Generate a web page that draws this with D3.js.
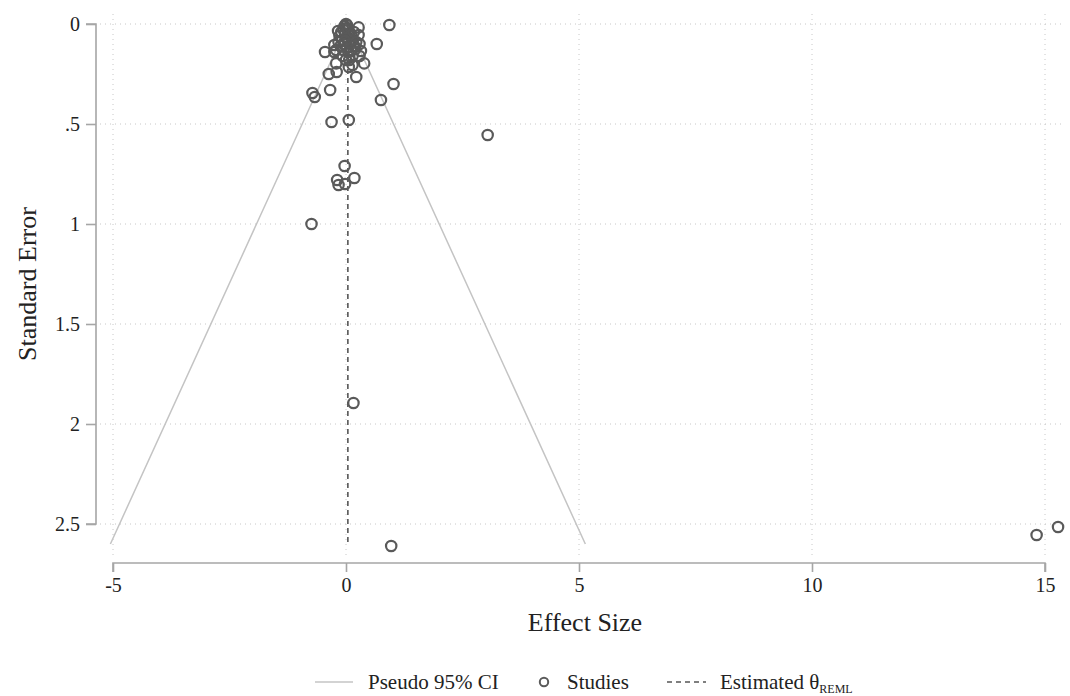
<!DOCTYPE html>
<html>
<head>
<meta charset="utf-8">
<script src="https://cdn.jsdelivr.net/npm/d3@7"></script>
<style>
  html, body { margin: 0; padding: 0; background: #fff; }
  svg { display: block; font-family: "Liberation Serif", "Times New Roman", serif; }
</style>
</head>
<body>
<svg id="chart" width="1070" height="696"></svg>
<script>
// Study effect sizes and their standard errors
const effectSize = [
  0.93, 3.04, 14.82, 15.28, 0.97, 0.16, -0.74,
  -0.03, 0.18, -0.19, -0.16, -0.02,
  -0.31, 0.06,
  -0.72, -0.67, -0.34, 0.75, 1.02,
  0.22, -0.37, -0.20, 0.06, -0.21, 0.14, 0.39, 0.00,
  0.66, -0.45, -0.25, 0.29, 0.32, 0.29, 0.27, 0.27,
  -0.07, 0.07, 0.14, 0.11, -0.25, -0.21,
  0.00, 0.02, -0.03, 0.01, -0.05, 0.04, -0.10, 0.08, -0.02, 0.12,
  -0.14, 0.02, -0.08, 0.15, 0.05, -0.16, -0.04, 0.10, 0.18, -0.12,
  0.02, -0.06, 0.20, 0.05, -0.17, 0.17, -0.02, 0.22
];
const standardError = [
  0.005, 0.555, 2.555, 2.515, 2.61, 1.895, 1.00,
  0.71, 0.77, 0.78, 0.805, 0.80,
  0.49, 0.48,
  0.345, 0.365, 0.33, 0.38, 0.30,
  0.265, 0.25, 0.24, 0.215, 0.197, 0.205, 0.197, 0.18,
  0.10, 0.14, 0.14, 0.16, 0.135, 0.10, 0.055, 0.017,
  0.16, 0.18, 0.16, 0.13, 0.105, 0.13,
  0.000, 0.005, 0.010, 0.020, 0.030, 0.030, 0.040, 0.045, 0.050, 0.060,
  0.060, 0.070, 0.080, 0.080, 0.090, 0.090, 0.100, 0.100, 0.110, 0.110,
  0.120, 0.130, 0.125, 0.140, 0.035, 0.040, 0.085, 0.090
];

// Pooled REML estimate and the extent of the pseudo confidence funnel
const thetaREML = 0.04;
const funnelMaxSE = 2.6;
const zCrit = 1.96;

const xTicks = [-5, 0, 5, 10, 15];
const xTickLabels = ["-5", "0", "5", "10", "15"];
const yTicks = [0, 0.5, 1, 1.5, 2, 2.5];
const yTickLabels = ["0", ".5", "1", "1.5", "2", "2.5"];

const svg = d3.select("#chart");

const x = d3.scaleLinear().domain([-5, 15]).range([113, 1045]);
const y = d3.scaleLinear().domain([0, 2.5]).range([24, 524]);

const axisColor = "#a6a6a6";
const textColor = "#222";
const tickFont = "20px";

// Dotted grid
const grid = svg.append("g");
grid.selectAll("line.h").data(yTicks).join("line")
  .attr("x1", 100).attr("x2", 1062)
  .attr("y1", d => y(d)).attr("y2", d => y(d))
  .attr("stroke", "#c8c8c8").attr("stroke-width", 1)
  .attr("stroke-dasharray", "1,4");
grid.selectAll("line.v").data(xTicks).join("line")
  .attr("x1", d => x(d)).attr("x2", d => x(d))
  .attr("y1", 14).attr("y2", 557)
  .attr("stroke", "#c8c8c8").attr("stroke-width", 1)
  .attr("stroke-dasharray", "1,4");

// Y axis (standard error, increasing downward)
const yAxis = d3.axisLeft(y).tickValues(yTicks)
  .tickFormat((d, i) => yTickLabels[i]).tickSize(10).tickPadding(6);
const gy = svg.append("g").attr("transform", "translate(96,0)").call(yAxis);
gy.select(".domain").attr("stroke", axisColor).attr("stroke-width", 1.6)
  .attr("d", `M-10,${y(0)}H0V${y(2.5)}H-10`);
gy.selectAll(".tick line").attr("stroke", axisColor).attr("stroke-width", 1.6);
gy.selectAll(".tick text").attr("fill", textColor)
  .style("font-size", tickFont).style("font-family", "Liberation Serif, serif");

// X axis (effect size)
const xAxis = d3.axisBottom(x).tickValues(xTicks).tickSize(9).tickPadding(6)
  .tickFormat((d, i) => xTickLabels[i]);
const gx = svg.append("g").attr("transform", "translate(0,563)").call(xAxis);
gx.select(".domain").attr("stroke", axisColor).attr("stroke-width", 1.6)
  .attr("d", `M${x(-5)},9V0H${x(15)}V9`);
gx.selectAll(".tick line").attr("stroke", axisColor).attr("stroke-width", 1.6);
gx.selectAll(".tick text").attr("fill", textColor)
  .style("font-size", tickFont).style("font-family", "Liberation Serif, serif");

// Axis titles
svg.append("text")
  .attr("transform", `translate(36,${y(1.3)}) rotate(-90)`)
  .attr("text-anchor", "middle").attr("fill", textColor)
  .style("font-size", "26px").text("Standard Error");
svg.append("text")
  .attr("x", 585).attr("y", 631)
  .attr("text-anchor", "middle").attr("fill", textColor)
  .style("font-size", "26px").text("Effect Size");

// Pseudo 95% confidence funnel
const funnel = [
  [thetaREML - zCrit * funnelMaxSE, funnelMaxSE],
  [thetaREML, 0],
  [thetaREML + zCrit * funnelMaxSE, funnelMaxSE]
];
svg.append("path")
  .datum(funnel)
  .attr("d", d3.line().x(d => x(d[0])).y(d => y(d[1])))
  .attr("fill", "none").attr("stroke", "#c4c4c4").attr("stroke-width", 1.5);

// Estimated effect line
svg.append("line")
  .attr("x1", x(thetaREML)).attr("x2", x(thetaREML))
  .attr("y1", y(0)).attr("y2", y(funnelMaxSE))
  .attr("stroke", "#555").attr("stroke-width", 1.6)
  .attr("stroke-dasharray", "5,4");

// Studies
const studies = effectSize.map((v, i) => ({ es: v, se: standardError[i] }));
svg.append("g").selectAll("circle").data(studies).join("circle")
  .attr("cx", d => x(d.es)).attr("cy", d => y(d.se))
  .attr("r", 5.2)
  .attr("fill", "none").attr("stroke", "#5a5a5a").attr("stroke-width", 2.2);

// Legend
const legY = 682;
const leg = svg.append("g").style("font-size", "21px").attr("fill", textColor);
leg.append("line").attr("x1", 315).attr("x2", 353).attr("y1", legY).attr("y2", legY)
  .attr("stroke", "#c4c4c4").attr("stroke-width", 1.5);
leg.append("text").attr("x", 368).attr("y", legY + 7).text("Pseudo 95% CI");
leg.append("circle").attr("cx", 544).attr("cy", legY).attr("r", 4.2)
  .attr("fill", "none").attr("stroke", "#5a5a5a").attr("stroke-width", 2);
leg.append("text").attr("x", 567).attr("y", legY + 7).text("Studies");
leg.append("line").attr("x1", 667).attr("x2", 706).attr("y1", legY).attr("y2", legY)
  .attr("stroke", "#555").attr("stroke-width", 1.5).attr("stroke-dasharray", "5,4");
const est = leg.append("text").attr("x", 720).attr("y", legY + 7);
est.append("tspan").text("Estimated \u03B8");
est.append("tspan").attr("dy", 4).style("font-size", "12px").text("REML");
</script>
</body>
</html>
